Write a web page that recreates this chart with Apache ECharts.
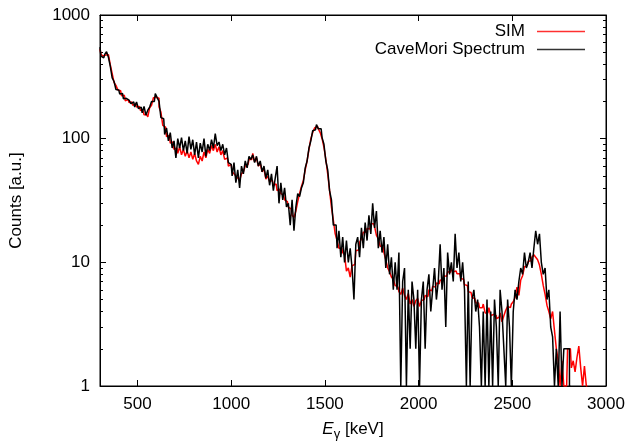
<!DOCTYPE html>
<html><head><meta charset="utf-8">
<script src="https://cdn.jsdelivr.net/npm/echarts@6/dist/echarts.min.js"></script>
<style>html,body{margin:0;padding:0;background:#fff}#c{width:629px;height:446px}</style>
</head><body><div id="c"></div>
<script>
// Energy binning (bin centres in keV)
const binStart = 300;
const binWidth = 10;

// SIM spectrum (red), 300..2900 keV
const simCounts = [
  530, 485, 465, 475, 478, 480, 395, 335, 285, 270, 248,
  244, 222, 224, 202, 208, 196, 198, 186, 192, 180, 182, 170, 168, 156, 156, 150, 178, 186, 214, 216,
  212, 180, 164, 128, 124, 104, 106, 92, 94, 82,
  84, 76, 86, 74, 82, 72, 80, 70, 78, 68, 76, 66, 62, 72, 66, 78, 70, 82, 76, 88, 80, 90, 78, 86, 74, 80, 68, 70, 60, 62,
  54, 52, 50, 48, 46, 52, 54, 60, 62, 68,
  68, 76, 65, 70, 60, 63, 54, 57, 47, 50,
  45, 46, 42, 43, 38, 39, 36, 35, 32, 31,
  28, 27, 24, 23, 26, 31, 36, 41, 46, 56,
  66, 82, 100, 112, 122, 126, 120, 112, 100, 85,
  68, 52, 38, 28, 22, 17, 15, 13, 13, 12,
  11.5, 8.5, 9, 7.6, 9.4, 9.6, 12.4, 12.6, 14.5, 15.5,
  17.5, 17.5, 18.8, 18.6, 20.5, 20.5, 19.5, 16.5, 15.5, 13.5,
  13.5, 12, 10.5, 9, 8.4, 7.6, 7.3, 6.5, 6.3, 5.8,
  5.5, 6.2, 5.4, 5, 5.6, 4.6, 5, 4.4, 4.9, 5.1,
  4.4, 4.9, 5, 5.4, 5.3, 6, 5.9, 6.4, 6.3, 6.8,
  6.7, 7.2, 7.1, 7.8, 7.7, 8.4, 8.3, 8.8, 8.4, 8.5,
  8.1, 8.1, 7.4, 7.3, 6.6, 6.5, 5.8, 5.7, 5.2, 5.1,
  4.7, 4.7, 4.3, 4.3, 4.6, 3.9, 3.9, 4.3, 3.7, 3.8,
  3.7, 3.5, 3.6, 3.9, 3.3, 3.7, 4.1, 4.4, 4.3, 4.6,
  4.8, 5.2, 6.3, 5.4, 7.2, 7.8, 9.2, 9.4, 10.2, 10.3,
  11, 11.5, 11, 10.5, 9.5, 8, 6.5, 5.5, 4.5, 4,
  3.5, 4, 2.8, 2, 1.6, 1, 1.6, 1, 1, 2,
  2, 1.4, 1.6, 1.3, 1.7, 2.1, 1.4, 1, 1.45, 1
];

// CaveMori measured spectrum (black), 300..2810 keV
const caveCounts = [
  550, 465, 450, 480, 505, 455, 385, 310, 290, 250, 248,
  230, 232, 210, 212, 205, 202, 192, 198, 180, 198, 175, 180, 162, 182, 155, 170, 180, 200, 200, 232,
  215, 200, 148, 145, 108, 122, 96, 112, 84, 96,
  70, 100, 84, 102, 80, 96, 76, 104, 82, 98, 74, 94, 70, 92, 78, 100, 72, 90, 80, 98, 84, 110, 88, 94, 80, 90, 74, 84, 64, 62,
  50, 64, 44, 56, 40, 60, 52, 66, 58, 72,
  68, 74, 64, 72, 60, 66, 54, 60, 48, 56,
  42, 52, 38, 48, 60, 30, 44, 32, 40, 28,
  30, 20, 32, 18, 28, 36, 34, 40, 44, 58,
  66, 84, 96, 116, 118, 130, 120, 120, 102, 90,
  66, 56, 38, 32, 20, 20, 13, 18, 11, 16,
  10, 15, 10, 13, 9, 5, 14, 16, 11, 19,
  13, 21, 15, 24, 17, 30, 19, 26, 13, 18,
  12, 16, 9, 14, 8, 11, 6, 10, 6, 12,
  1, 7, 9, 1, 6, 2, 7, 5, 2, 6,
  1, 5, 7, 2, 6, 8, 4, 6, 9, 5,
  7, 14, 6, 9, 3, 12, 8, 10, 7, 17,
  9, 12, 7, 10, 6, 1, 7, 1, 5, 6,
  4, 5, 3, 1, 4, 1, 5, 1, 4, 1,
  5, 3, 1, 6, 4, 2, 1, 5, 3, 1,
  4, 6, 5, 7, 9, 8, 12, 9, 10, 12,
  9, 13, 18, 14, 17, 10, 8, 9, 5, 6,
  3, 2.5, 1, 2, 1, 4, 1, 2, 2, 2,
  1
];

const seriesNames = ['SIM', 'CaveMori Spectrum'];
const xTicks = [500, 1000, 1500, 2000, 2500, 3000];
const yMajor = [1, 10, 100, 1000];
const yMinor = [2, 3, 4, 5, 6, 7, 8, 9, 20, 30, 40, 50, 60, 70, 80, 90, 200, 300, 400, 500, 600, 700, 800, 900];

function toPairs(arr) { return arr.map((v, i) => [binStart + i * binWidth, v]); }

const FONT = '"Liberation Sans", Arial, sans-serif';
const FS = 17;
const plain = v => String(Math.round(v));
const chart = echarts.init(document.getElementById('c'), null, { renderer: 'canvas' });

function yAxisDef(pos, ticks, len, labels) {
  return {
    type: 'log', logBase: 10, min: 1, max: 1000, position: pos,
    axisLine: { show: labels, lineStyle: { color: '#000', width: 1 } },
    axisTick: { show: true, inside: true, length: len, customValues: ticks, lineStyle: { color: '#000', width: 1 } },
    axisLabel: labels ? { show: true, customValues: yMajor, formatter: plain, color: '#000', fontFamily: FONT, fontSize: FS, margin: 10 } : { show: false },
    splitLine: { show: false }, minorTick: { show: false }
  };
}

const leftMain = yAxisDef('left', yMajor, 6, true);
leftMain.name = 'Counts [a.u.]';
leftMain.nameLocation = 'middle';
leftMain.nameRotate = 90;
leftMain.nameGap = 75;
leftMain.nameTextStyle = { color: '#000', fontFamily: FONT, fontSize: FS };

chart.setOption({
  animation: false,
  textStyle: { fontFamily: FONT },
  grid: { left: 100, right: 23, top: 15, bottom: 59, show: true, borderColor: '#000', borderWidth: 1, backgroundColor: 'transparent' },
  xAxis: [
    {
      type: 'value', min: 300, max: 3000, position: 'bottom',
      axisLine: { show: true, lineStyle: { color: '#000', width: 1 } },
      axisTick: { show: true, inside: true, length: 6, customValues: xTicks, lineStyle: { color: '#000' } },
      axisLabel: { customValues: xTicks, formatter: plain, color: '#000', fontFamily: FONT, fontSize: FS, margin: 10 },
      splitLine: { show: false },
      name: '{i|E}{s|γ}{n| [keV]}', nameLocation: 'middle', nameGap: 31,
      nameTextStyle: {
        color: '#000',
        rich: {
          i: { fontStyle: 'italic', fontFamily: FONT, fontSize: FS, lineHeight: 24, verticalAlign: 'middle', color: '#000' },
          s: { fontFamily: FONT, fontSize: 13, lineHeight: 24, verticalAlign: 'bottom', color: '#000' },
          n: { fontFamily: FONT, fontSize: FS, lineHeight: 24, verticalAlign: 'middle', color: '#000' }
        }
      }
    },
    {
      type: 'value', min: 300, max: 3000, position: 'top',
      axisLine: { show: true, lineStyle: { color: '#000', width: 1 } },
      axisTick: { show: true, inside: true, length: 6, customValues: xTicks, lineStyle: { color: '#000' } },
      axisLabel: { show: false }, splitLine: { show: false }
    }
  ],
  yAxis: [
    leftMain,
    yAxisDef('left', yMinor, 3, false),
    Object.assign(yAxisDef('right', yMajor, 6, false), { axisLine: { show: true, lineStyle: { color: '#000' } } }),
    yAxisDef('right', yMinor, 3, false)
  ],
  legend: [
    {
      data: [seriesNames[0]], right: 44, top: 23, align: 'right', padding: 0,
      itemWidth: 48, itemHeight: 14, icon: 'path://M0,0L48,0L48,1.5L0,1.5Z',
      textStyle: { color: '#000', fontFamily: FONT, fontSize: FS, padding: [0, 7, 0, 0] }
    },
    {
      data: [seriesNames[1]], right: 44, top: 41, align: 'right', padding: 0,
      itemWidth: 48, itemHeight: 14, icon: 'path://M0,0L48,0L48,1.5L0,1.5Z',
      textStyle: { color: '#000', fontFamily: FONT, fontSize: FS, padding: [0, 7, 0, 0] }
    }
  ],
  series: [
    {
      name: seriesNames[0], type: 'line', step: 'middle', data: toPairs(simCounts),
      symbol: 'none', clip: true, xAxisIndex: 0, yAxisIndex: 0,
      lineStyle: { color: '#ff0000', width: 1.5 }, itemStyle: { color: '#ff3030' }
    },
    {
      name: seriesNames[1], type: 'line', step: 'middle', data: toPairs(caveCounts),
      symbol: 'none', clip: true, xAxisIndex: 0, yAxisIndex: 0,
      lineStyle: { color: '#000000', width: 1.5 }, itemStyle: { color: '#333' }
    }
  ]
});
</script></body></html>
